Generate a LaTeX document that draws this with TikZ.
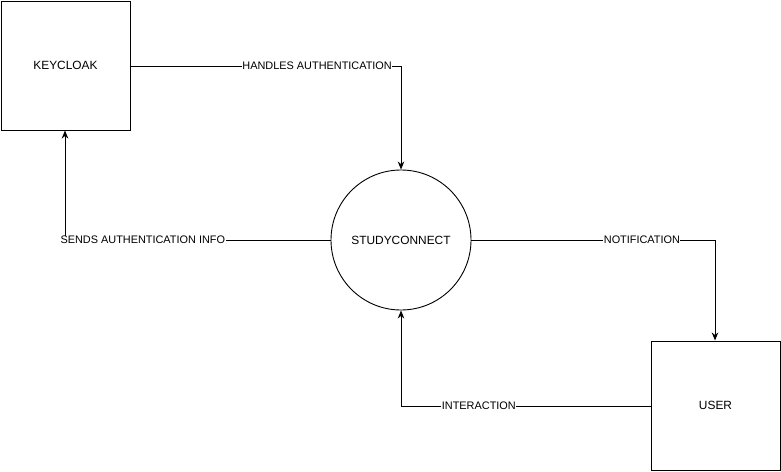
\documentclass[tikz,border=0pt]{standalone}
\usepackage{fontspec}
\setmainfont{Liberation Sans}
\usetikzlibrary{arrows.meta}
\begin{document}
\begin{tikzpicture}[x=1pt,y=-1pt,
  ent/.style={draw,line width=1pt,minimum width=129pt,minimum height=129pt,inner sep=0pt,font=\fontsize{11.9}{14}\selectfont},
  proc/.style={draw,circle,line width=0.9pt,minimum size=140pt,inner sep=0pt,font=\fontsize{11.9}{14}\selectfont},
  flow/.style={line width=1pt,-{Stealth[length=8pt,width=6.5pt,inset=2.5pt]}},
  lbl/.style={fill=white,inner sep=0.5pt,font=\fontsize{10.9}{12}\selectfont}]
\useasboundingbox (0,0) rectangle (781,471);
\node[ent] (kc) at (65.5,65.5) {KEYCLOAK};
\node[ent] (user) at (715.5,405.5) {USER};
\node[proc] (sc) at (401,240) {STUDYCONNECT};
\coordinate (c1) at (401,66);
\coordinate (c2) at (65,240);
\coordinate (c3) at (715,240);
\coordinate (c4) at (401,406);
\draw[flow] (kc.east |- c1) -- node[lbl,pos=0.69]{HANDLES AUTHENTICATION} (c1) -- (sc.north);
\draw[flow] (sc.west) -- node[lbl,pos=0.707]{SENDS AUTHENTICATION INFO} (c2) -- (kc.south -| c2);
\draw[flow] (sc.east) -- node[lbl,pos=0.70]{NOTIFICATION} (c3) -- (user.north -| c3);
\draw[flow] (user.west |- c4) -- node[lbl,pos=0.688]{INTERACTION} (c4) -- (sc.south);
\end{tikzpicture}
\end{document}
